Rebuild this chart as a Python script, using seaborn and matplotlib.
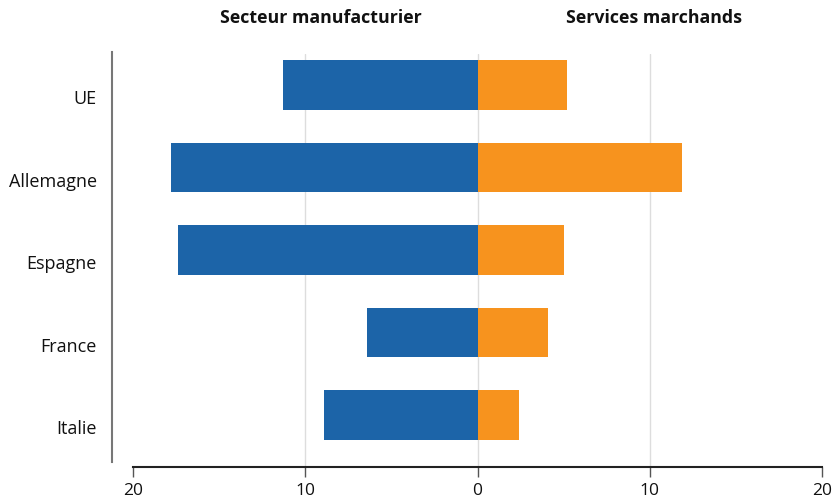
import matplotlib
matplotlib.use("Agg")
import matplotlib.pyplot as plt
import matplotlib.transforms as mtransforms
import seaborn as sns
import pandas as pd
from matplotlib.ticker import FuncFormatter

pays = ["UE", "Allemagne", "Espagne", "France", "Italie"]
manufacturier = [11.3, 17.8, 17.4, 6.4, 8.9]
services = [5.2, 11.9, 5.0, 4.1, 2.4]
xticks = [-20, -10, 0, 10, 20]

df = pd.DataFrame({"pays": pays,
                   "manuf": [-v for v in manufacturier],
                   "serv": services})

sns.set_theme(style="white")
plt.rcParams["font.family"] = ["Open Sans", "DejaVu Sans"]

fig = plt.figure(figsize=(8.32, 5.01), dpi=100)
ax = fig.add_axes([133/832, 1-467/501, (822-133)/832, (467-54)/501])

sns.barplot(data=df, y="pays", x="manuf", orient="h", color="#1c64a8",
            saturation=1, width=0.6, linewidth=0, edgecolor="none", ax=ax, zorder=3)
sns.barplot(data=df, y="pays", x="serv", orient="h", color="#f7931e",
            saturation=1, width=0.6, linewidth=0, edgecolor="none", ax=ax, zorder=3)

ax.set_xlim(-20, 20)
ax.set_ylim(4.63, -0.376)
ax.set_xticks(xticks)
ax.xaxis.set_major_formatter(FuncFormatter(lambda v, p: f"{abs(int(v))}"))
ax.set_xlabel("")
ax.set_ylabel("")

for x in [-10, 0, 10]:
    ax.axvline(x, color="#dddddd", lw=1, zorder=1)

for s in ["top", "right"]:
    ax.spines[s].set_visible(False)
ax.spines["bottom"].set_color("#222222")
ax.spines["bottom"].set_linewidth(1.5)
ax.spines["left"].set_position(("outward", 15))
ax.spines["left"].set_color("#777777")
ax.spines["left"].set_linewidth(1.5)
ax.spines["left"].set_bounds(4.57, -0.40)

ax.tick_params(axis="x", bottom=True, length=7, width=1, color="#555555",
               pad=4.5, labelsize=12.5, labelcolor="#111111")
ax.tick_params(axis="y", left=False, length=0, pad=11, labelsize=13,
               labelcolor="#111111")

offset = mtransforms.ScaledTranslation(0, -0.12, fig.dpi_scale_trans)
for lab in ax.get_yticklabels():
    lab.set_transform(lab.get_transform() + offset)

fig.text(321/832, 1-18/501, "Secteur manufacturier", ha="center", va="center",
         fontsize=12.8, fontweight="bold", color="#111111")
fig.text(654/832, 1-18/501, "Services marchands", ha="center", va="center",
         fontsize=12.8, fontweight="bold", color="#111111")

fig.savefig("out.png", dpi=100)
